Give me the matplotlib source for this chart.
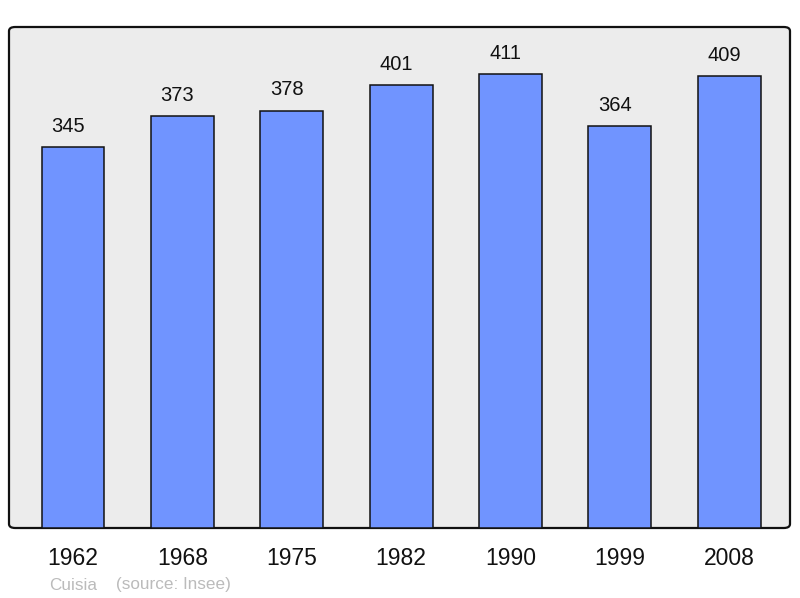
import matplotlib
matplotlib.use("Agg")
import matplotlib.pyplot as plt
from matplotlib.patches import FancyBboxPatch

years = ["1962", "1968", "1975", "1982", "1990", "1999", "2008"]
population = [345, 373, 378, 401, 411, 364, 409]
commune = "Cuisia"
source = "(source: Insee)"

plt.rcParams["font.family"] = ["Liberation Sans", "DejaVu Sans"]

W, H = 800, 598
fig = plt.figure(figsize=(W / 100, H / 100), dpi=100)

# plot area in pixels: x 9..790, y 27..528
left, top, right, bottom = 9, 27, 790, 528
ax = fig.add_axes([left / W, (H - bottom) / H, (right - left) / W, (bottom - top) / H])
ax.set_facecolor("none")

# rounded grey frame behind the bars
frame = FancyBboxPatch((0, 0), 1, 1, boxstyle="round,pad=0,rounding_size=0.008",
                       transform=ax.transAxes, facecolor="#ececec",
                       edgecolor="#111111", linewidth=1.6, zorder=0, clip_on=False)
ax.add_patch(frame)

x = list(range(len(years)))
ax.bar(x, population, width=0.575, color="#7094ff", edgecolor="#111111",
       linewidth=1.1, zorder=2)

# value labels sit a little left of the bar centre, as in the original
for xi, v in zip(x, population):
    ax.annotate(str(v), (xi, v), xytext=(-3.5, 11), textcoords="offset points",
                ha="center", va="baseline", fontsize=14.5, color="#111111")

ax.set_xlim(-0.585, 6.555)
ax.set_ylim(0, 453.6)
for s in ax.spines.values():
    s.set_visible(False)
ax.set_yticks([])
ax.set_xticks(x)
ax.set_xticklabels(years, fontsize=16.5, color="#111111")
ax.tick_params(axis="x", length=0, pad=14)

fig.text(49 / W, 1 - 585 / H, commune, fontsize=12.3, color="#bbbbbb", va="center", ha="left")
fig.text(116 / W, 1 - 585 / H, source, fontsize=12.3, color="#bbbbbb", va="center", ha="left")

fig.savefig("out.png", dpi=100)
